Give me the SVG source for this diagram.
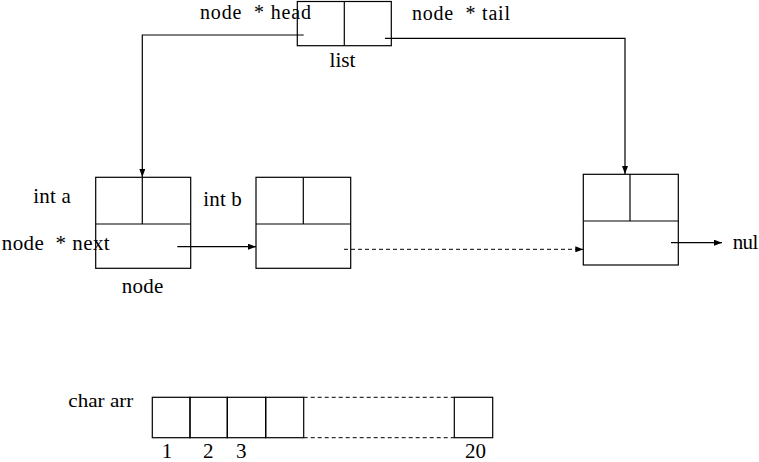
<svg xmlns="http://www.w3.org/2000/svg" width="759" height="462" viewBox="0 0 759 462">
<style>
.box{fill:none;stroke:#000;stroke-width:1.2}
.ln{fill:none;stroke:#000;stroke-width:1.2}
.dash{fill:none;stroke:#000;stroke-width:1;stroke-dasharray:4,3}
text{font-family:"Liberation Serif","Times New Roman",serif;font-size:21px;fill:#000;white-space:pre}
.sm{font-size:19px}
.top{font-size:20px}
</style>
<defs>
<marker id="ah" viewBox="0 0 8 6" refX="8" refY="3" markerWidth="8" markerHeight="6" markerUnits="userSpaceOnUse" orient="auto">
<path d="M0,0 L8,3 L0,6 z" fill="#000"/>
</marker>
</defs>
<rect width="759" height="462" fill="#fff"/>
<g id="list">
<rect class="box" x="297.3" y="1.5" width="94" height="44.2"/>
<line class="box" x1="344.3" y1="1.5" x2="344.3" y2="45.7"/>
<text class="top" x="200" y="18.5" textLength="111" lengthAdjust="spacing" xml:space="preserve">node  * head</text>
<text class="top" x="412" y="19.5" textLength="98" lengthAdjust="spacing" xml:space="preserve">node  * tail</text>
<text x="329.5" y="67" textLength="26" lengthAdjust="spacingAndGlyphs">list</text>
</g>
<g id="node1">
<rect class="box" x="95.7" y="177.3" width="95" height="91"/>
<line class="box" x1="95.7" y1="224" x2="190.7" y2="224"/>
<line class="box" x1="142.3" y1="177.3" x2="142.3" y2="224"/>
<text x="33.3" y="203.3" textLength="37.5" lengthAdjust="spacing">int a</text>
<text x="1.7" y="250" textLength="108" lengthAdjust="spacing" xml:space="preserve">node  * next</text>
<text x="121.7" y="293.3" textLength="41.6" lengthAdjust="spacing">node</text>
</g>
<g id="node2">
<rect class="box" x="256" y="177.3" width="94.7" height="91"/>
<line class="box" x1="256" y1="224" x2="350.7" y2="224"/>
<line class="box" x1="303.3" y1="177.3" x2="303.3" y2="224"/>
<text x="203.3" y="206" textLength="38.4" lengthAdjust="spacing">int b</text>
</g>
<g id="node3">
<rect class="box" x="583.3" y="174.3" width="95" height="90.7"/>
<line class="box" x1="583.3" y1="221" x2="678.3" y2="221"/>
<line class="box" x1="630" y1="174.3" x2="630" y2="221"/>
<text x="732.7" y="249.3" textLength="25.6" lengthAdjust="spacing">nul</text>
</g>
<g id="array">
<rect class="box" x="152.3" y="397.3" width="37.7" height="40.4"/>
<rect class="box" x="190" y="397.3" width="37.3" height="40.4"/>
<rect class="box" x="227.3" y="397.3" width="38.4" height="40.4"/>
<rect class="box" x="265.7" y="397.3" width="38" height="40.4"/>
<line class="dash" x1="303.7" y1="397.3" x2="454.3" y2="397.3"/>
<line class="dash" x1="303.7" y1="437.7" x2="454.3" y2="437.7"/>
<rect class="box" x="454.3" y="397.3" width="38.4" height="40.4"/>
<text class="sm" x="68.3" y="407.3" textLength="65" lengthAdjust="spacingAndGlyphs">char arr</text>
<text x="161.7" y="458.3">1</text>
<text x="203" y="458.3">2</text>
<text x="236" y="458.3">3</text>
<text x="465" y="458.3">20</text>
</g>
<g id="connectors">
<polyline class="ln" points="303.7,35 142.3,35 142.3,177" marker-end="url(#ah)"/>
<polyline class="ln" points="385,38.3 625,38.3 625,174" marker-end="url(#ah)"/>
<line class="ln" x1="177.3" y1="246.7" x2="256" y2="246.7" marker-end="url(#ah)"/>
<line class="dash" x1="344" y1="249.3" x2="583.3" y2="249.3" marker-end="url(#ah)"/>
<line class="ln" x1="671" y1="242.7" x2="722" y2="242.7" marker-end="url(#ah)"/>
</g>
</svg>
